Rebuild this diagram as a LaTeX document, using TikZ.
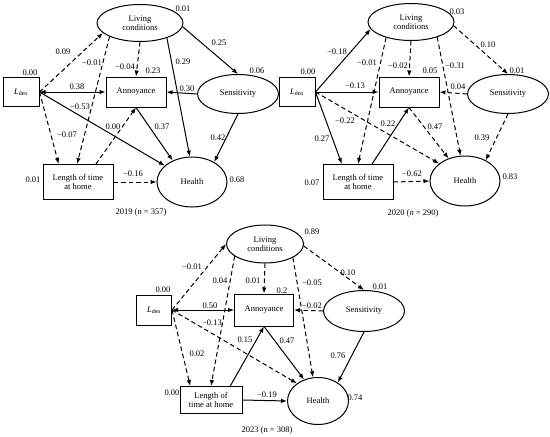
\documentclass[tikz,border=0pt]{standalone}
\usepackage{fontspec}
\setmainfont{Liberation Serif}
\usetikzlibrary{shapes.geometric}
\usetikzlibrary{arrows.meta}

\newcommand{\lden}{\textit{L}\textsubscript{den}}

\tikzset{
  >={Latex[length=6pt,width=4.5pt]},
  box/.style={draw,line width=1pt,inner sep=0pt,align=center},
  oval/.style={draw,ellipse,line width=1pt,inner sep=0pt,align=center},
  ldenbox/.style={box,minimum width=36pt,minimum height=29pt},
  annbox/.style={box,minimum width=60pt,minimum height=30pt},
  lthbox/.style={box,minimum width=70pt,minimum height=35pt},
  livoval/.style={oval,minimum width=86pt,minimum height=37pt},
  sensoval/.style={oval,minimum width=81pt,minimum height=39pt},
  hloval/.style={oval,minimum width=70pt,minimum height=50pt},
  eff/.style={line width=1pt,->},
  weak/.style={eff,dash pattern=on 4.5pt off 3pt},
  coef/.style={inner sep=0pt}
}

\begin{document}
\begin{tikzpicture}[x=1pt,y=-1pt,font=\fontsize{8.5}{9.5}\selectfont]
  \useasboundingbox (0,0) rectangle (550,437);

  % 2019
  \node[ldenbox] (lden1) at (21,92) {\lden};
  \node[livoval] (liv1) at (140,23) {Living\\conditions};
  \node[annbox] (ann1) at (136,92) {Annoyance};
  \node[sensoval] (sens1) at (238,94) {Sensitivity};
  \node[lthbox] (lth1) at (78,182) {Length of time\\at home};
  \node[hloval] (hl1) at (192,182) {Health};
  \draw[weak] (lden1.east) -- (liv1.195);
  \draw[eff,<->] (lden1.east) -- (ann1.west);
  \draw[eff] (lden1.east) -- (hl1.149);
  \draw[weak] (lden1.east) -- (lth1.137);
  \draw[weak] (liv1.204) -- (lth1.93);
  \draw[weak] (liv1.south) -- (ann1.north);
  \draw[eff] (liv1.-29) -- (hl1.95);
  \draw[eff] (liv1.-5) -- (sens1.north);
  \draw[eff] (sens1.west) -- (ann1.east);
  \draw[eff] (sens1.south) -- (hl1.42);
  \draw[weak] (lth1.45) -- (ann1.south);
  \draw[eff] (ann1.south) -- (hl1.132);
  \draw[weak] (lth1.east) -- (hl1.west);
  \foreach \x/\y/\t [count=\i] in {183/9/0.01, 63/52/0.09, 92/63/−0.01,
      125/67/−0.04, 153/71/0.23, 183/62/0.29, 219/43/0.25, 257/71/0.06,
      30/73/0.00, 77/87/0.38, 187/89/0.30, 80/107/−0.53, 113/127/0.00,
      162/127/0.37, 67/135/−0.07, 218/138/0.42, 33/180/0.01, 133/174/−0.16,
      237/180/0.68}
    \node[coef] (c1-\i) at (\x,\y) {\t};
  \node (cap1) at (141,212) {2019 (n = 357)};

  % 2020
  \node[ldenbox] (lden2) at (297,92) {\lden};
  \node[livoval] (liv2) at (411,22) {Living\\conditions};
  \node[annbox] (ann2) at (409,92) {Annoyance};
  \node[sensoval] (sens2) at (508,94) {Sensitivity};
  \node[lthbox] (lth2) at (358,182) {Length of time\\at home};
  \node[hloval] (hl2) at (465,181) {Health};
  \draw[eff] (lden2.east) -- (liv2.190);
  \draw[eff] (lden2.east) -- (ann2.west);
  \draw[weak] (lden2.east) -- (hl2.146);
  \draw[eff] (lden2.east) -- (lth2.132);
  \draw[weak] (liv2.212) -- (lth2.north);
  \draw[weak] (liv2.south) -- (ann2.north);
  \draw[weak] (liv2.-30) -- (hl2.100);
  \draw[weak] (liv2.-5) -- (sens2.north);
  \draw[weak] (sens2.west) -- (ann2.east);
  \draw[weak] (sens2.south) -- (hl2.45);
  \draw[eff] (lth2.52) -- (ann2.south);
  \draw[weak] (ann2.south) -- (hl2.126);
  \draw[weak] (lth2.east) -- (hl2.west);
  \foreach \x/\y/\t [count=\i] in {457/12/0.03, 337/52/−0.18, 367/63/−0.01,
      398/66/−0.02, 455/66/−0.31, 488/45/0.10, 308/72/0.00, 430/71/0.05,
      517/71/0.01, 355/86/−0.13, 458/87/0.04, 345/121/−0.22, 388/124/0.22,
      435/127/0.47, 482/138/0.39, 322/139/0.27, 312/183/0.07, 412/174/−0.62,
      510/177/0.83}
    \node[coef] (c2-\i) at (\x,\y) {\t};
  \node (cap2) at (413,213) {2020 (\textit{n} = 290)};

  % 2023
  \begin{scope}[ldenbox/.append style={minimum width=35pt,minimum height=30pt},
      annbox/.append style={minimum width=59pt,minimum height=32pt},
      lthbox/.append style={minimum width=62pt,minimum height=27pt},
      livoval/.append style={minimum width=77pt,minimum height=38pt},
      sensoval/.append style={minimum width=81pt,minimum height=41pt},
      hloval/.append style={minimum width=61pt,minimum height=47pt}]
  \node[ldenbox] (lden3) at (154,310) {\lden};
  \node[livoval] (liv3) at (265,244) {Living\\conditions};
  \node[annbox] (ann3) at (264,310) {Annoyance};
  \node[sensoval] (sens3) at (364,311) {Sensitivity};
  \node[lthbox] (lth3) at (211,400) {Length of\\time at home};
  \node[hloval] (hl3) at (318,401) {Health};
  \draw[weak] (lden3.east) -- (liv3.west);
  \draw[eff,<->] (lden3.east) -- (ann3.west);
  \draw[weak] (lden3.east) -- (hl3.140);
  \draw[weak] (lden3.east) -- (lth3.146);
  \draw[weak] (liv3.202) -- (lth3.north);
  \draw[weak] (liv3.south) -- (ann3.north);
  \draw[weak] (liv3.-26) -- (hl3.102);
  \draw[weak] (liv3.-3) -- (sens3.north);
  \draw[weak] (sens3.west) -- (ann3.east);
  \draw[eff] (sens3.south) -- (hl3.43);
  \draw[eff] (lth3.36) -- (ann3.south);
  \draw[eff] (ann3.south) -- (hl3.123);
  \draw[eff] (lth3.east) -- (hl3.west);
  \end{scope}
  \foreach \x/\y/\t [count=\i] in {312/232/0.89, 192/267/−0.01, 348/273/0.10,
      220/281/0.04, 253/281/0.01, 312/283/−0.05, 163/290/0.00, 282/291/0.2,
      380/287/0.01, 210/306/0.50, 312/306/−0.02, 212/323/−0.13, 245/340/0.15,
      287/341/0.47, 197/354/0.02, 338/356/0.76, 172/393/0.00, 267/395/−0.19,
      355/398/0.74}
    \node[coef] (c3-\i) at (\x,\y) {\t};
  \node (cap3) at (267,430) {2023 (n = 308)};
\end{tikzpicture}
\end{document}
